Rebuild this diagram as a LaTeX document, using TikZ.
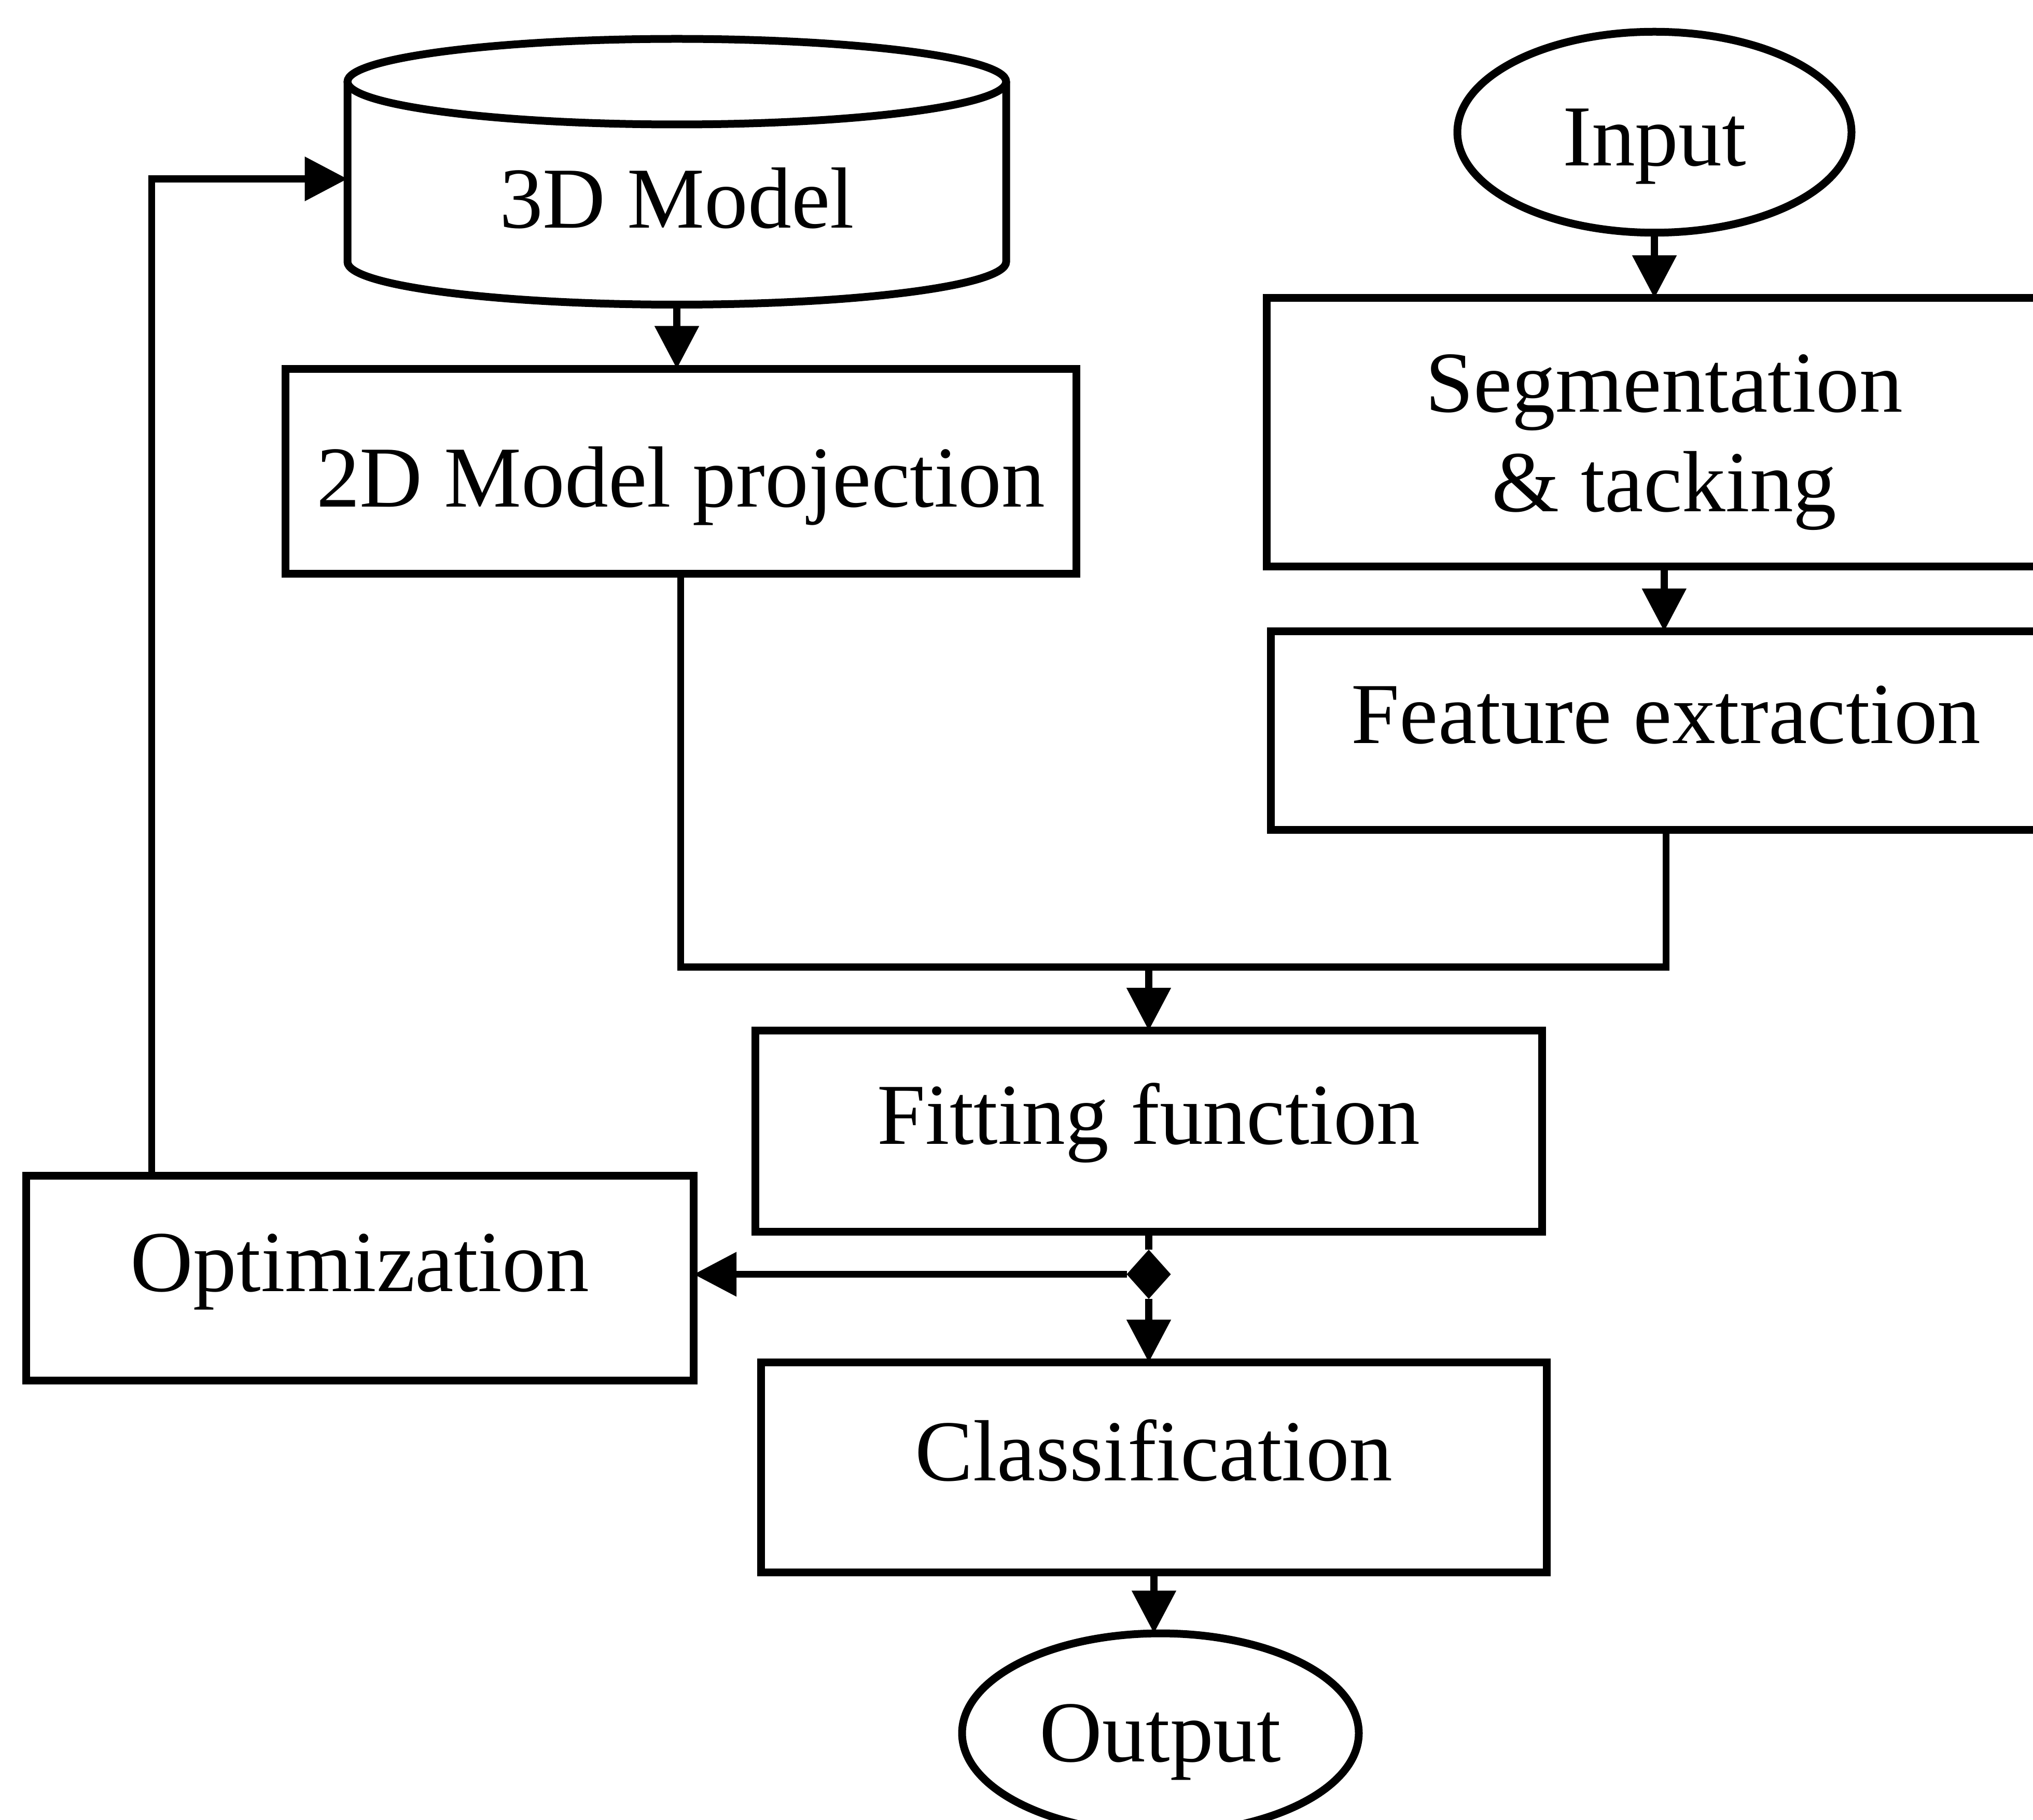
\documentclass[tikz,border=0pt]{standalone}
\usepackage{fontspec}
\setmainfont{Liberation Serif}
\usetikzlibrary{arrows.meta,shapes.geometric}
\begin{document}
\begin{tikzpicture}[x=1pt,y=1pt,
  every node/.style={font=\fontsize{67}{77}\selectfont, outer sep=0pt, inner sep=0pt},
  stepbox/.style={draw, rectangle, line width=6pt, text height=47pt, text depth=27pt},
  oval/.style={draw, ellipse, line width=6pt},
  conn/.style={line width=5.5pt},
  arr/.style={conn, -{Triangle[length=33pt,width=33pt]}},
]
\useasboundingbox (0,0) rectangle (1568,-1404);
\clip (0,0) rectangle (1568,-1404);

% 3D model store (cylinder outline drawn around the node)
\node[minimum width=508, minimum height=205, text height=87pt, text depth=0pt] (m3d) at (522,-132.5) {3D Model};
\draw[line width=6pt] ([yshift=-33]m3d.north west) -- ([yshift=33]m3d.south west)
  arc[start angle=180, end angle=360, x radius=254, y radius=33] -- ([yshift=-33]m3d.north east);
\draw[line width=6pt] ([yshift=-33]m3d.north) ellipse [x radius=254, y radius=33];

% process steps
\node[stepbox, minimum width=610, minimum height=158, text height=55pt, text depth=0pt] (proj2d) at (525,-363.5) {2D Model projection};
\node[oval, minimum width=304, minimum height=155, text height=52pt, text depth=0pt] (inp) at (1276,-102) {Input};
\node[draw, rectangle, line width=6pt, align=center, minimum width=613, minimum height=207] (seg) at (1283.5,-333.5) {\rule{0pt}{60pt}Segmentation\\\& tacking};
\node[stepbox, minimum width=610, minimum height=153] (feat) at (1285,-563.5) {Feature extraction};
\node[stepbox, minimum width=607, minimum height=155] (fit) at (886,-872.5) {Fitting function};
\node[stepbox, minimum width=515, minimum height=158] (opt) at (277.5,-986) {Optimization};
\node[stepbox, minimum width=606, minimum height=162] (cls) at (890,-1132) {Classification};
\node[oval, minimum width=306, minimum height=154, text height=44pt, text depth=0pt] (out) at (895,-1337) {Output};
\node[diamond, fill=black, minimum width=34, minimum height=38] (junc) at (886,-983) {};

\coordinate (merge) at (886,-746);
\coordinate (fb) at (117,-138);

% connectors
\draw[arr] (m3d.south) -- (m3d.south |- proj2d.north);
\draw[arr] (inp.south) -- (inp.south |- seg.north);
\draw[arr] (seg.south) -- (seg.south |- feat.north);
\draw[conn] (proj2d.south) |- (merge) -| (feat.south);
\draw[arr] (merge) -- (fit.north);
\draw[conn] (fit.south) -- (junc.north);
\draw[arr] (junc.south) -- (junc.south |- cls.north);
\draw[arr] (junc.west) -- (junc.west -| opt.east);
\draw[arr] (opt.north -| fb) |- (fb -| m3d.west);
\draw[arr] (cls.south) -- (cls.south |- out.north);
\end{tikzpicture}
\end{document}
